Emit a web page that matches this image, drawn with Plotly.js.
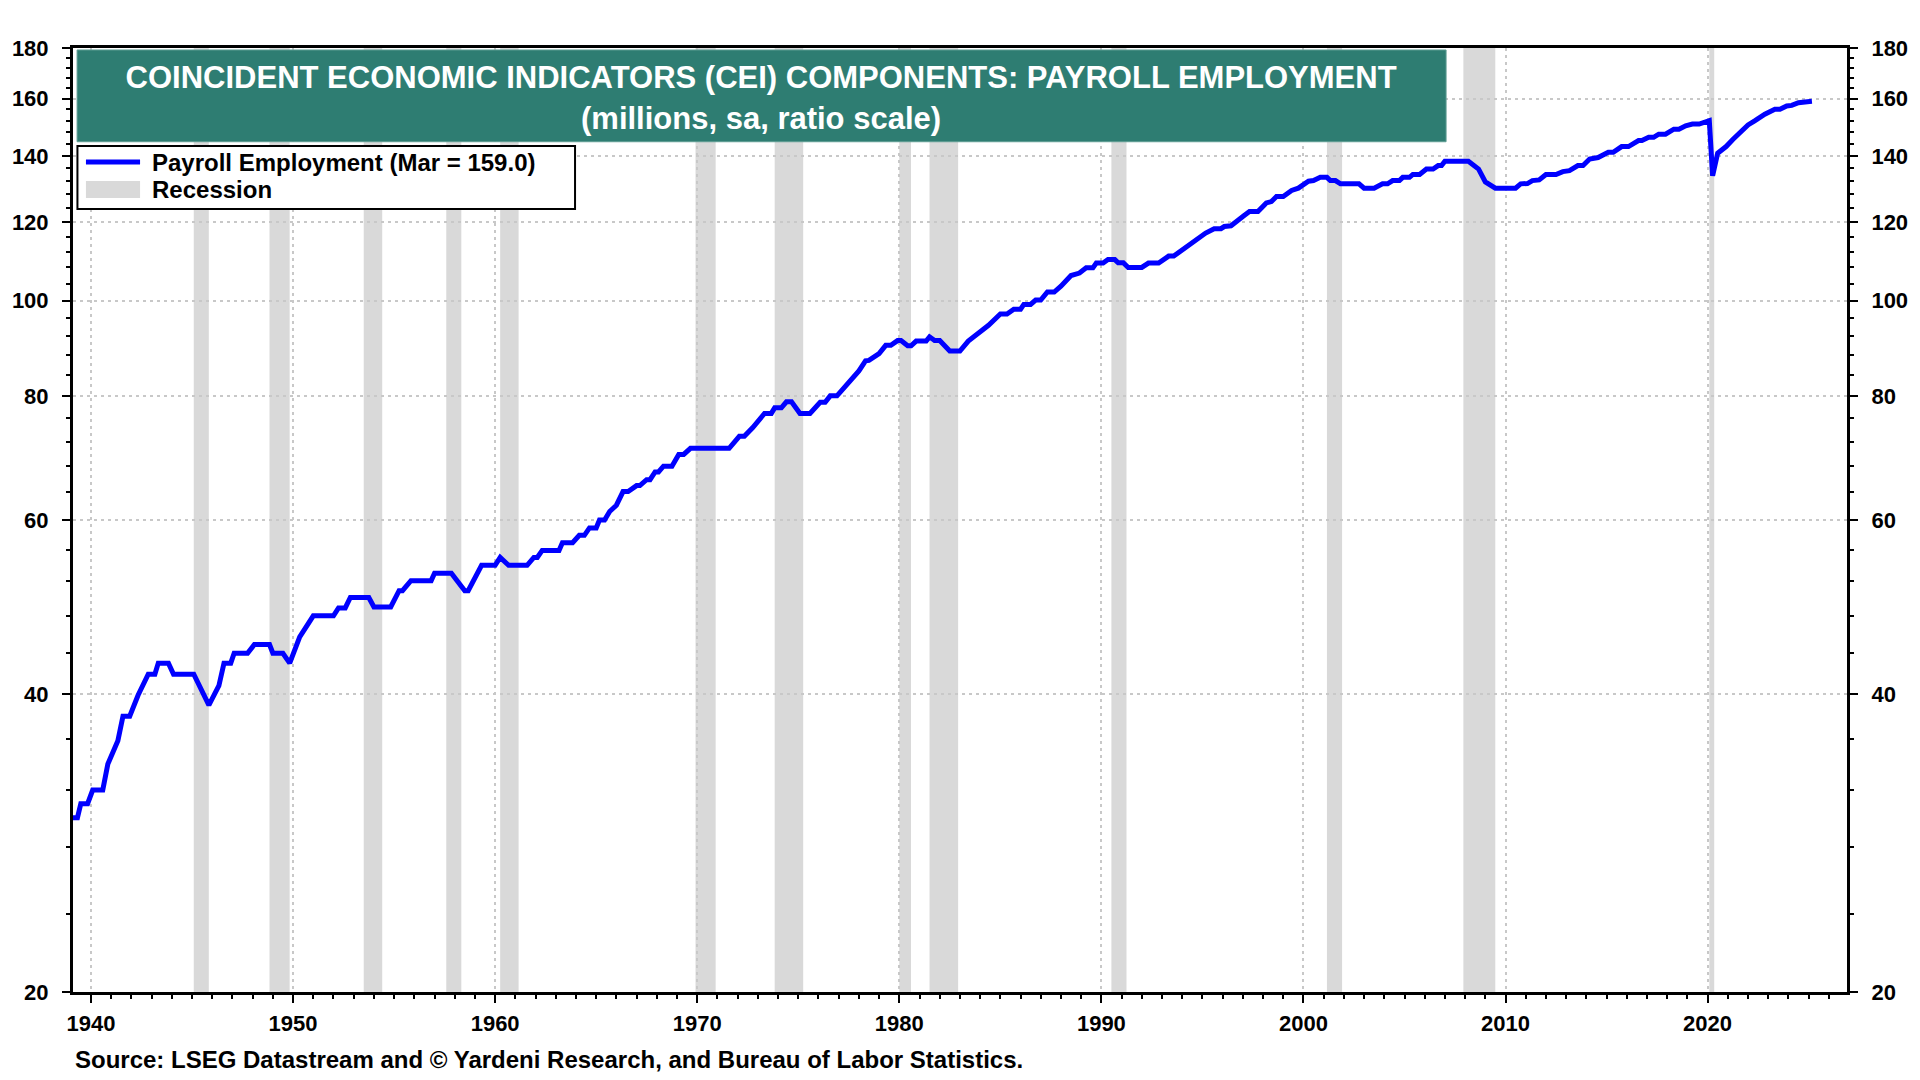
<!DOCTYPE html>
<html>
<head>
<meta charset="utf-8">
<script src="https://cdn.plot.ly/plotly-3.0.1.min.js"></script>
<style>
  html, body { margin: 0; padding: 0; background: #ffffff; }
  #chart { width: 1920px; height: 1080px; }
</style>
</head>
<body>
<div id="chart"></div>
<script>
// ---------------- DATA ----------------
const months = [
  '1939-01','1939-05','1939-07','1939-11','1940-02','1940-08','1940-11','1941-05','1941-08','1941-12',
  '1942-05','1942-11','1943-03','1943-05','1943-11','1944-02','1945-02','1945-11','1946-05','1946-08',
  '1946-12','1947-02','1947-10','1948-02','1948-11','1949-01','1949-07','1949-11','1950-05','1951-01',
  '1952-01','1952-04','1952-08','1952-11','1953-10','1954-01','1954-11','1955-04','1955-06','1955-11',
  '1956-11','1957-01','1957-11','1958-07','1958-09','1959-05','1960-01','1960-04','1960-09','1961-08',
  '1961-12','1962-02','1962-05','1963-03','1963-05','1963-11','1964-03','1964-06','1964-09','1965-01',
  '1965-03','1965-06','1965-09','1966-01','1966-05','1966-08','1967-01','1967-03','1967-07','1967-09',
  '1967-12','1968-02','1968-05','1968-10','1969-02','1969-05','1969-09','1971-08','1972-02','1972-05',
  '1972-10','1973-05','1973-09','1973-11','1974-03','1974-06','1974-09','1975-02','1975-08','1976-02',
  '1976-05','1976-08','1976-12','1977-05','1977-08','1978-01','1978-05','1978-07','1979-01','1979-05',
  '1979-08','1979-12','1980-02','1980-06','1980-08','1980-11','1981-05','1981-07','1981-10','1982-01',
  '1982-07','1983-01','1983-06','1983-12','1984-06','1985-01','1985-05','1985-09','1986-01','1986-03',
  '1986-07','1986-10','1987-01','1987-05','1987-09','1988-01','1988-07','1988-12','1989-04','1989-08',
  '1989-10','1990-02','1990-05','1990-09','1990-11','1991-02','1991-05','1992-01','1992-05','1992-11',
  '1993-05','1993-08','1994-03','1994-07','1995-03','1995-08','1995-12','1996-02','1996-06','1997-01',
  '1997-05','1997-10','1998-03','1998-06','1998-09','1999-01','1999-06','1999-10','2000-04','2000-07',
  '2000-11','2001-03','2001-05','2001-08','2001-11','2002-10','2003-01','2003-07','2003-12','2004-03',
  '2004-06','2004-10','2004-12','2005-04','2005-06','2005-10','2006-02','2006-06','2006-09','2006-11',
  '2007-01','2008-03','2008-09','2009-01','2009-07','2010-07','2010-10','2011-02','2011-05','2011-09',
  '2012-01','2012-07','2012-11','2013-03','2013-08','2013-11','2014-03','2014-08','2015-02','2015-05',
  '2015-10','2016-02','2016-08','2016-10','2017-02','2017-05','2017-08','2017-12','2018-05','2018-08',
  '2018-12','2019-04','2019-08','2020-02','2020-04','2020-07','2020-12','2021-04','2021-08','2022-01',
  '2022-05','2022-11','2023-05','2023-08','2023-12','2024-03','2024-07','2024-10','2025-03'
];
const payroll = [
  30.0, 30.0, 31.0, 31.0, 32.0, 32.0, 34.0, 35.9, 38.0, 38.0,
  39.9, 41.9, 41.9, 43.0, 43.0, 41.9, 41.9, 39.0, 40.8, 43.0,
  43.0, 44.0, 44.0, 44.9, 44.9, 44.0, 44.0, 43.0, 45.7, 48.0,
  48.0, 48.9, 48.9, 50.1, 50.1, 49.0, 49.0, 50.9, 50.9, 52.1,
  52.1, 53.0, 53.0, 50.9, 50.9, 54.0, 54.0, 55.0, 54.0, 54.0,
  55.0, 55.0, 55.9, 55.9, 56.9, 56.9, 57.9, 57.9, 58.9, 58.9,
  60.0, 60.0, 61.2, 62.1, 64.1, 64.1, 65.0, 65.0, 65.9, 65.9,
  67.1, 67.1, 68.0, 68.0, 69.9, 69.9, 70.9, 70.9, 72.9, 72.9,
  74.4, 76.9, 76.9, 77.9, 77.9, 79.0, 79.0, 76.9, 76.9, 78.9,
  78.9, 80.1, 80.1, 81.8, 82.8, 84.9, 86.9, 87.0, 88.4, 90.1,
  90.1, 91.1, 91.1, 90.0, 90.0, 91.0, 91.0, 91.9, 91.1, 91.1,
  88.9, 88.9, 91.0, 92.6, 94.4, 96.9, 96.9, 98.0, 98.0, 99.1,
  99.1, 100.1, 100.1, 102.0, 102.0, 103.4, 106.0, 106.6, 107.9, 107.9,
  109.1, 109.1, 110.0, 110.0, 109.2, 109.2, 108.0, 108.0, 109.1, 109.1,
  110.9, 110.9, 113.2, 114.6, 117.0, 118.2, 118.2, 118.8, 119.0, 121.6,
  123.0, 123.0, 125.5, 125.9, 127.4, 127.4, 129.2, 129.9, 132.0, 132.2,
  133.2, 133.2, 132.2, 132.2, 131.2, 131.2, 129.9, 129.9, 131.2, 131.2,
  132.2, 132.2, 133.2, 133.2, 134.1, 134.1, 135.8, 135.8, 136.9, 136.9,
  138.3, 138.3, 135.8, 131.8, 129.9, 129.9, 131.2, 131.3, 132.2, 132.4,
  134.1, 134.1, 135.0, 135.3, 136.9, 136.9, 139.0, 139.5, 141.2, 141.2,
  143.1, 143.1, 145.1, 145.1, 146.2, 146.2, 147.3, 147.3, 149.0, 149.0,
  150.2, 150.8, 150.8, 152.0, 133.7, 140.9, 143.1, 145.5, 147.5, 150.5,
  151.9, 154.3, 156.1, 156.1, 157.3, 157.5, 158.5, 158.6, 159.0
];
const recStart = ['1945-02-01','1948-11-01','1953-07-01','1957-08-01','1960-04-01','1969-12-01','1973-11-01',
                  '1980-01-01','1981-07-01','1990-07-01','2001-03-01','2007-12-01','2020-02-01'];
const recEnd   = ['1945-10-31','1949-10-31','1954-05-31','1958-04-30','1961-02-28','1970-11-30','1975-03-31',
                  '1980-07-31','1982-11-30','1991-03-31','2001-11-30','2009-06-30','2020-04-30'];
const yTicks = [20, 40, 60, 80, 100, 120, 140, 160, 180];
const yMinor = [24, 28, 32, 36, 44, 48, 52, 56, 64, 68, 72, 76, 84, 88, 92, 96,
                104, 108, 112, 116, 124, 128, 132, 136, 144, 148, 152, 156, 164, 168, 172, 176];
const titleLine1 = 'COINCIDENT ECONOMIC INDICATORS (CEI) COMPONENTS: PAYROLL EMPLOYMENT';
const titleLine2 = '(millions, sa, ratio scale)';
const seriesName = 'Payroll Employment (Mar = 159.0)';
const recessionName = 'Recession';
const sourceText = 'Source: LSEG Datastream and © Yardeni Research, and Bureau of Labor Statistics.';

// ---------------- STYLE ----------------
const FONT = '"Liberation Sans", Arial, Helvetica, sans-serif';
const BLUE = '#0000ff';
const GREY = '#d9d9d9';
const TEAL = '#2e7d72';
const GRID = '#c8c8c8';

const traces = [
  {
    x: months, y: payroll, type: 'scatter', mode: 'lines', name: seriesName,
    line: { color: BLUE, width: 5 }, showlegend: false, hoverinfo: 'x+y'
  },
  {
    x: months, y: payroll, type: 'scatter', mode: 'lines', yaxis: 'y2',
    line: { color: 'rgba(0,0,0,0)', width: 0 }, showlegend: false, hoverinfo: 'skip'
  }
];

const shapes = [];
for (let i = 0; i < recStart.length; i++) {
  shapes.push({
    type: 'rect', xref: 'x', yref: 'paper', x0: recStart[i], x1: recEnd[i], y0: 0, y1: 1,
    fillcolor: GREY, line: { width: 0 }, layer: 'below'
  });
}
// title box
shapes.push({ type: 'rect', xref: 'paper', yref: 'paper', x0: 0.0023, x1: 0.7740, y0: 0.9007, y1: 0.9979,
  fillcolor: TEAL, line: { color: '#5f9d93', width: 1 }, layer: 'above' });
// legend box
shapes.push({ type: 'rect', xref: 'paper', yref: 'paper', x0: 0.0025, x1: 0.2830, y0: 0.8294, y1: 0.8962,
  fillcolor: '#ffffff', line: { color: '#000000', width: 2 }, layer: 'above' });
// legend samples
shapes.push({ type: 'line', xref: 'paper', yref: 'paper', x0: 0.0073, x1: 0.0378, y0: 0.8792, y1: 0.8792,
  line: { color: BLUE, width: 5 }, layer: 'above' });
shapes.push({ type: 'rect', xref: 'paper', yref: 'paper', x0: 0.0073, x1: 0.0378, y0: 0.8411, y1: 0.8591,
  fillcolor: GREY, line: { width: 0 }, layer: 'above' });

const annotations = [
  { xref: 'paper', yref: 'paper', x: 0.3878, y: 0.9258, xanchor: 'center', yanchor: 'middle', showarrow: false,
    text: titleLine2, font: { family: FONT, size: 31, color: '#ffffff', weight: 'bold' } },
  { xref: 'paper', yref: 'paper', x: 0.0434, y: 0.8792, xanchor: 'left', yanchor: 'middle', showarrow: false,
    text: seriesName, font: { family: FONT, size: 24, color: '#000000', weight: 'bold' } },
  { xref: 'paper', yref: 'paper', x: 0.0434, y: 0.8496, xanchor: 'left', yanchor: 'middle', showarrow: false,
    text: recessionName, font: { family: FONT, size: 24, color: '#000000', weight: 'bold' } },
  { xref: 'paper', yref: 'paper', x: 0.0, y: -0.0710, xanchor: 'left', yanchor: 'middle', showarrow: false,
    text: sourceText, font: { family: FONT, size: 24, color: '#000000', weight: 'bold' } }
];

const tickFont = { family: FONT, size: 22, color: '#000000', weight: 'bold' };
const yCommon = {
  type: 'log',
  range: [Math.log10(20), Math.log10(180)],
  tickmode: 'array', tickvals: yTicks, ticktext: yTicks.map(String),
  ticks: 'outside', ticklen: 8, tickwidth: 2, tickcolor: '#000000',
  tickfont: tickFont,
  showline: true, linecolor: '#000000', linewidth: 3,
  minor: { tickmode: 'array', tickvals: yMinor, ticks: 'outside', ticklen: 4, tickwidth: 2, tickcolor: '#000000', showgrid: false },
  fixedrange: true, zeroline: false
};

const layout = {
  width: 1920, height: 1080,
  margin: { l: 73, r: 73, t: 48, b: 88, pad: 0 },
  paper_bgcolor: '#ffffff', plot_bgcolor: '#ffffff',
  font: { family: FONT, color: '#000000' },
  showlegend: false,
  title: {
    text: titleLine1,
    font: { family: FONT, size: 31, color: '#ffffff', weight: 'bold' },
    xref: 'container', yref: 'container', x: 0.3964, xanchor: 'center',
    y: 0.9287, yanchor: 'middle'
  },
  xaxis: {
    type: 'date',
    range: ['1939-02-10', '2026-11-25'],
    tickmode: 'linear', tick0: '1940-01-01', dtick: 'M120', tickformat: '%Y',
    ticks: 'outside', ticklen: 8, tickwidth: 2, tickcolor: '#000000',
    tickfont: tickFont, ticklabelstandoff: 2,
    showline: true, linecolor: '#000000', linewidth: 3, mirror: true,
    showgrid: true, gridcolor: GRID, gridwidth: 2, griddash: '3px,4px',
    minor: { tick0: '1940-01-01', dtick: 'M12', ticks: 'outside', ticklen: 4, tickwidth: 2, tickcolor: '#000000', showgrid: false },
    fixedrange: true, zeroline: false
  },
  yaxis: Object.assign({}, yCommon, {
    side: 'left', showgrid: true, gridcolor: GRID, gridwidth: 2, griddash: '3px,4px',
    ticklabelstandoff: 9
  }),
  yaxis2: Object.assign({}, yCommon, {
    side: 'right', overlaying: 'y', anchor: 'x', showgrid: false, ticklabelstandoff: 9
  }),
  shapes: shapes,
  annotations: annotations
};

Plotly.newPlot('chart', traces, layout, { staticPlot: true, displayModeBar: false });
</script>
</body>
</html>
